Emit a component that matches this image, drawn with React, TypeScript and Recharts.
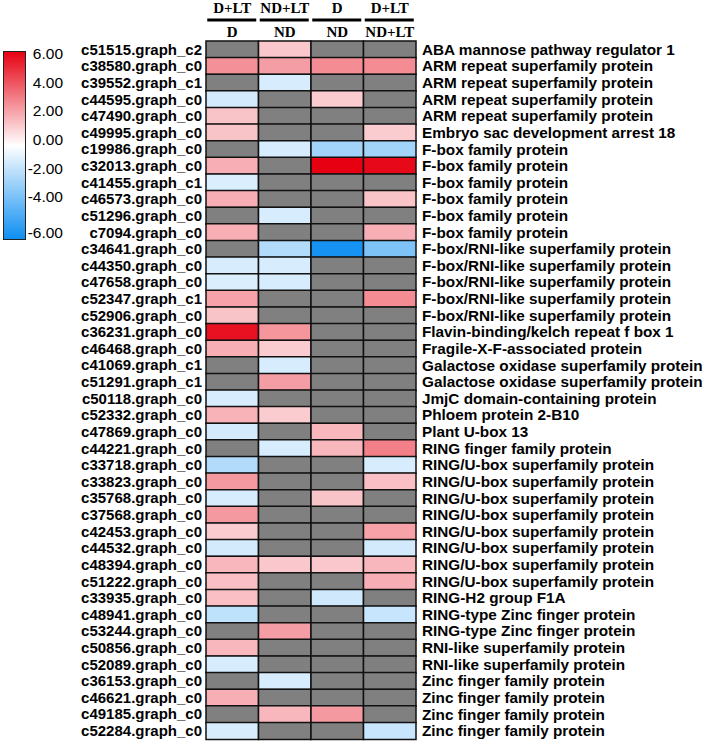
import { Bar, BarChart, Cell, XAxis, YAxis } from 'recharts'

// comparison headers (top = numerator, bottom = denominator)
const compareTop = ['D+LT', 'ND+LT', 'D', 'D+LT']
const compareBottom = ['D', 'ND', 'ND', 'ND+LT']

const geneIds = [
  'c51515.graph_c2', 'c38580.graph_c0', 'c39552.graph_c1', 'c44595.graph_c0', 'c47490.graph_c0',
  'c49995.graph_c0', 'c19986.graph_c0', 'c32013.graph_c0', 'c41455.graph_c1', 'c46573.graph_c0',
  'c51296.graph_c0', 'c7094.graph_c0', 'c34641.graph_c0', 'c44350.graph_c0', 'c47658.graph_c0',
  'c52347.graph_c1', 'c52906.graph_c0', 'c36231.graph_c0', 'c46468.graph_c0', 'c41069.graph_c1',
  'c51291.graph_c1', 'c50118.graph_c0', 'c52332.graph_c0', 'c47869.graph_c0', 'c44221.graph_c0',
  'c33718.graph_c0', 'c33823.graph_c0', 'c35768.graph_c0', 'c37568.graph_c0', 'c42453.graph_c0',
  'c44532.graph_c0', 'c48394.graph_c0', 'c51222.graph_c0', 'c33935.graph_c0', 'c48941.graph_c0',
  'c53244.graph_c0', 'c50856.graph_c0', 'c52089.graph_c0', 'c36153.graph_c0', 'c46621.graph_c0',
  'c49185.graph_c0', 'c52284.graph_c0',
]

const descriptions = [
  'ABA mannose pathway regulator 1',
  'ARM repeat superfamily protein',
  'ARM repeat superfamily protein',
  'ARM repeat superfamily protein',
  'ARM repeat superfamily protein',
  'Embryo sac development arrest 18',
  'F-box family protein',
  'F-box family protein',
  'F-box family protein',
  'F-box family protein',
  'F-box family protein',
  'F-box family protein',
  'F-box/RNI-like superfamily protein',
  'F-box/RNI-like superfamily protein',
  'F-box/RNI-like superfamily protein',
  'F-box/RNI-like superfamily protein',
  'F-box/RNI-like superfamily protein',
  'Flavin-binding/kelch repeat f box 1',
  'Fragile-X-F-associated protein',
  'Galactose oxidase superfamily protein',
  'Galactose oxidase superfamily protein',
  'JmjC domain-containing protein',
  'Phloem protein 2-B10',
  'Plant U-box 13',
  'RING finger family protein',
  'RING/U-box superfamily protein',
  'RING/U-box superfamily protein',
  'RING/U-box superfamily protein',
  'RING/U-box superfamily protein',
  'RING/U-box superfamily protein',
  'RING/U-box superfamily protein',
  'RING/U-box superfamily protein',
  'RING/U-box superfamily protein',
  'RING-H2 group F1A',
  'RING-type Zinc finger protein',
  'RING-type Zinc finger protein',
  'RNI-like superfamily protein',
  'RNI-like superfamily protein',
  'Zinc finger family protein',
  'Zinc finger family protein',
  'Zinc finger family protein',
  'Zinc finger family protein',
]

// log2 fold change per comparison, null = not significant (grey)
const dltVsD = [
  null, 2.6, null, -1.1, 1.4, 1.4, null, 1.9, -0.9, 1.9,
  null, 1.9, null, -1.0, -0.9, 2.2, 1.4, 5.6, 1.9, null,
  null, -1.0, 1.8, -1.1, null, -1.9, 2.4, -1.0, 2.4, 1.2,
  -1.1, 1.7, 1.5, 1.5, -1.6, null, 1.7, -1.0, null, 1.9,
  null, -1.0,
]
const ndltVsNd = [
  1.3, 2.3, -1.0, null, null, null, -1.0, null, null, null,
  -1.0, null, -1.9, -1.0, -1.0, null, null, 2.5, 1.2, -1.0,
  2.3, null, 1.2, null, -1.0, null, null, null, null, null,
  null, 1.3, null, null, null, 2.3, null, null, -1.0, null,
  1.7, null,
]
const dVsNd = [
  null, 2.7, null, 1.2, null, null, -2.3, 6.0, null, null,
  null, null, -5.8, null, null, null, null, null, null, null,
  null, null, null, 1.7, 1.7, null, null, 1.4, null, null,
  null, 1.3, null, -1.2, null, null, null, null, null, null,
  2.4, null,
]
const dltVsNdlt = [
  null, 2.7, null, null, null, 1.2, -2.3, 5.8, null, 1.4,
  null, 1.9, -3.2, null, null, 2.7, null, null, null, null,
  null, null, null, null, 3.0, -1.0, 1.5, null, null, 2.2,
  -1.1, 1.7, 1.9, null, -1.4, null, null, null, null, null,
  null, -1.4,
]

const legendTicks = [6, 4, 2, 0, -2, -4, -6]

const columns = [dltVsD, ndltVsNd, dVsNd, dltVsNdlt]
const rows = geneIds.map((id, i) => ({ id, desc: descriptions[i], c0: 1, c1: 1, c2: 1, c3: 1 }))

const RED = [230, 0, 18]
const BLUE = [13, 142, 242]

function heatColor(v: number | null) {
  if (v == null) return '#808080'
  const t = Math.min(Math.abs(v) / 6, 1)
  const end = v > 0 ? RED : BLUE
  const c = end.map((e) => Math.round(255 + (e - 255) * t))
  return `rgb(${c[0]},${c[1]},${c[2]})`
}

const sans = '"Liberation Sans", Arial, sans-serif'
const serif = '"Liberation Serif", "Times New Roman", serif'

function GeneTick({ x, y, payload }: any) {
  return (
    <text x={x} y={y} dy="0.36em" textAnchor="end" fontFamily={sans} fontWeight={700} fontSize={15} fill="#000">
      {payload.value}
    </text>
  )
}

function DescTick({ x, y, index }: any) {
  return (
    <text x={x} y={y} dy="0.36em" textAnchor="start" fontFamily={sans} fontWeight={700} fontSize={15.3} fill="#000">
      {descriptions[index]}
    </text>
  )
}

function HeaderTick({ x, y, index }: any) {
  return (
    <g fontFamily={serif} fontWeight={700} fontSize={15} fill="#000">
      <text x={x} y={y - 28} textAnchor="middle">{compareTop[index]}</text>
      <line x1={x - 25} x2={x + 24} y1={y - 21} y2={y - 21} stroke="#000" strokeWidth={3} />
      <text x={x} y={y - 4} textAnchor="middle">{compareBottom[index]}</text>
    </g>
  )
}

function ColorLegend() {
  const labelY = (v: number) => 139.5 - v * 14.35 + (v === -6 ? 7 : 0)
  return (
    <svg width={80} height={260} style={{ position: 'absolute', left: 0, top: 0 }}>
      <defs>
        <linearGradient id="heat" x1="0" y1="0" x2="0" y2="1">
          <stop offset="0%" stopColor={heatColor(6)} />
          <stop offset="50%" stopColor="#ffffff" />
          <stop offset="100%" stopColor={heatColor(-6)} />
        </linearGradient>
      </defs>
      <rect x={3.5} y={51.5} width={22} height={188} fill="url(#heat)" stroke="#222" strokeWidth={1} />
      {legendTicks.map((v) => (
        <text key={v} x={63} y={labelY(v)} dy="0.36em" textAnchor="end" fontFamily={sans} fontSize={15.5} fill="#000">
          {v.toFixed(2)}
        </text>
      ))}
    </svg>
  )
}

export default function App() {
  return (
    <div style={{ position: 'absolute', left: 0, top: 0, width: 708, height: 745, background: '#fff' }}>
      <BarChart
        width={708}
        height={745}
        data={rows}
        layout="vertical"
        barCategoryGap={0}
        margin={{ top: 0, right: 0, bottom: 6, left: 0 }}
      >
        <XAxis
          type="number"
          orientation="top"
          domain={[0, 4]}
          ticks={[0.5, 1.5, 2.5, 3.5]}
          interval={0}
          height={41}
          axisLine={false}
          tickLine={false}
          tickSize={0}
          tickMargin={0}
          tick={<HeaderTick />}
        />
        <YAxis
          yAxisId="left"
          type="category"
          dataKey="id"
          width={206}
          axisLine={false}
          tickLine={false}
          tickSize={0}
          tickMargin={4}
          interval={0}
          tick={<GeneTick />}
        />
        <YAxis
          yAxisId="right"
          type="category"
          dataKey="id"
          orientation="right"
          width={292}
          axisLine={false}
          tickLine={false}
          tickSize={0}
          tickMargin={6}
          interval={0}
          tick={<DescTick />}
        />
        {columns.map((vals, ci) => (
          <Bar
            key={ci}
            yAxisId="left"
            dataKey={`c${ci}`}
            stackId="h"
            stroke="#111"
            strokeWidth={1.5}
            isAnimationActive={false}
          >
            {vals.map((v, ri) => (
              <Cell key={ri} fill={heatColor(v)} />
            ))}
          </Bar>
        ))}
      </BarChart>
      <ColorLegend />
    </div>
  )
}
